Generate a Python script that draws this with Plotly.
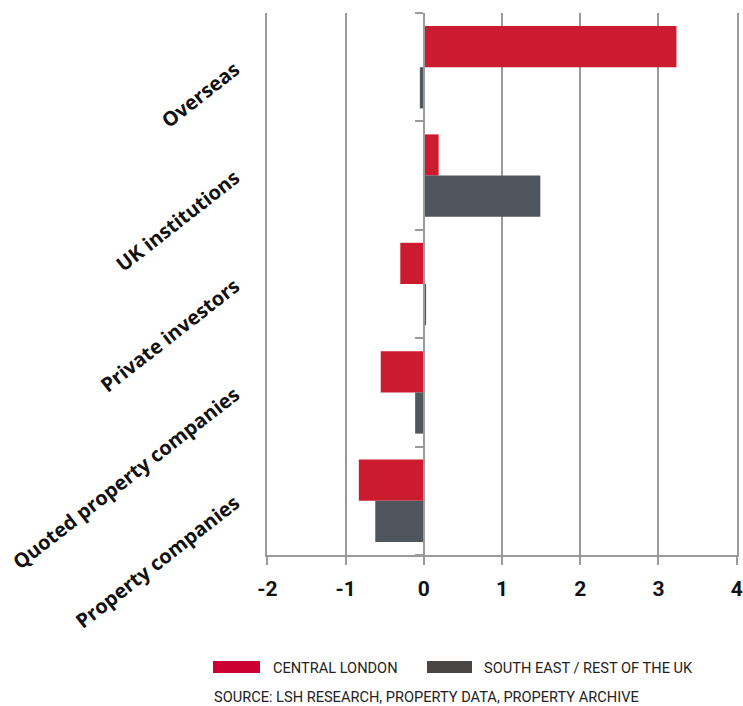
import plotly.graph_objects as go

categories = ["Overseas", "UK institutions", "Private investors",
              "Quoted property companies", "Property companies"]
central_london = [3.23, 0.19, -0.30, -0.55, -0.83]
south_east = [-0.05, 1.49, 0.03, -0.11, -0.62]
series_names = ["CENTRAL LONDON", "SOUTH EAST / REST OF THE UK"]
x_ticks = [-2, -1, 0, 1, 2, 3, 4]
source_text = "SOURCE: LSH RESEARCH, PROPERTY DATA, PROPERTY ARCHIVE"

RED = "#CC1B2E"
GREY = "#4F565E"
AXIS = "#9A9A9A"

fig = go.Figure()
fig.add_trace(go.Bar(y=categories, x=central_london, orientation="h",
                     name=series_names[0], marker=dict(color=RED, line=dict(width=0)),
                     showlegend=False))
fig.add_trace(go.Bar(y=categories, x=south_east, orientation="h",
                     name=series_names[1], marker=dict(color=GREY, line=dict(width=0)),
                     showlegend=False))
# dummy trace to carry the zero-line axis with category boundary ticks
fig.add_trace(go.Scatter(x=[None], y=[None], yaxis="y2", showlegend=False,
                         hoverinfo="skip"))

n = len(categories)
boundaries = [i - 0.5 for i in range(n + 1)]
xmin, xmax = x_ticks[0], x_ticks[-1]
eps = 0.004

fig.update_layout(
    width=743, height=706,
    margin=dict(l=267, r=6, t=13, b=151, autoexpand=False),
    paper_bgcolor="white", plot_bgcolor="white",
    barmode="group", bargap=0.24, bargroupgap=0,
    xaxis=dict(range=[xmin - eps, xmax + eps], tickmode="array", tickvals=x_ticks,
               ticktext=[str(t) for t in x_ticks], showgrid=True, automargin=False,
               gridcolor=AXIS, gridwidth=2, zeroline=False,
               showline=True, linecolor=AXIS, linewidth=2,
               ticks="outside", ticklen=8, tickwidth=2, tickcolor=AXIS,
               tickfont=dict(family="Roboto", size=21, color="#111111", weight="bold"),
               ticklabelstandoff=6),
    yaxis=dict(type="category", categoryorder="array", categoryarray=categories,
               range=[n - 0.5, -0.5], showgrid=False, zeroline=False, automargin=False,
               showline=True, mirror=True, linecolor=AXIS, linewidth=2,
               ticks="", tickangle=-38,
               tickfont=dict(family="Open Sans", size=20, color="#111111", weight="bold"),
               ticklabelstandoff=26),
    yaxis2=dict(overlaying="y", anchor="free", automargin=False,
                position=(0 - xmin + eps) / (xmax - xmin + 2 * eps),
                range=[n - 0.5, -0.5], tickmode="array", tickvals=boundaries,
                showticklabels=False, showgrid=False, zeroline=False,
                showline=True, linecolor=AXIS, linewidth=2,
                ticks="outside", ticklen=8, tickwidth=2, tickcolor=AXIS),
)

# manual legend
def px_x(px):
    return (px - 267) / 470

def px_y(py):
    return (555 - py) / 542

legend_items = [(series_names[0], "#CC0033", 213, 260, 271),
                (series_names[1], "#4A4644", 427, 472, 482)]
for name, col, x0, x1, xt in legend_items:
    fig.add_shape(type="rect", xref="paper", yref="paper",
                  x0=px_x(x0), x1=px_x(x1), y0=px_y(673), y1=px_y(661),
                  fillcolor=col, line=dict(width=0))
    fig.add_annotation(text=name, xref="paper", yref="paper", x=px_x(xt), y=px_y(668),
                       xanchor="left", yanchor="middle", showarrow=False,
                       font=dict(family="Roboto", size=14.6, color="#222222"))
fig.add_annotation(text=source_text, xref="paper", yref="paper", x=px_x(212), y=px_y(697),
                   xanchor="left", yanchor="middle", showarrow=False,
                   font=dict(family="Roboto", size=14.6, color="#222222"))

fig.write_html("out.html")
